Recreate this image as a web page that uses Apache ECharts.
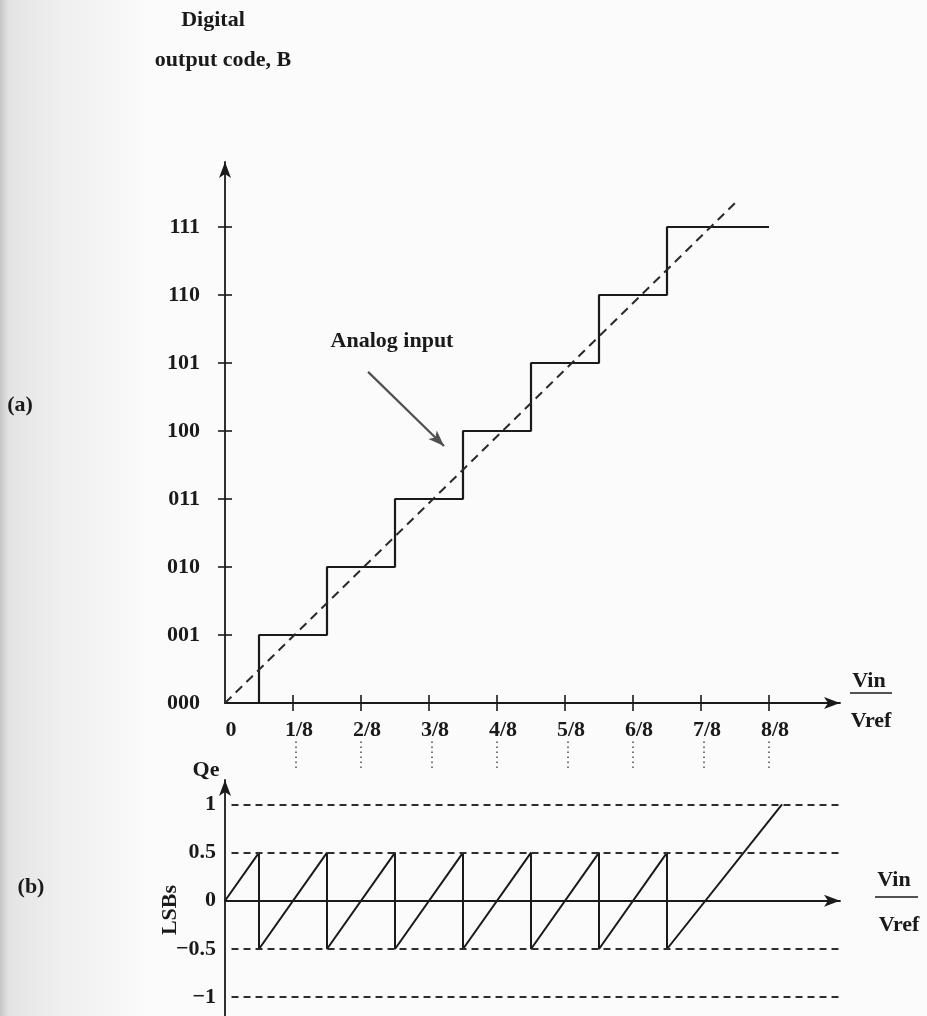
<!DOCTYPE html>
<html><head><meta charset="utf-8">
<script src="https://cdn.jsdelivr.net/npm/echarts@6/dist/echarts.min.js"></script>
<style>html,body{margin:0;padding:0;background:#fbfbfb}#c{width:927px;height:1016px}</style>
</head><body><div id="c"></div>
<script>
// ---- data ----
const codeLabels = ['000','001','010','011','100','101','110','111'];
const codeValues = [0,1,2,3,4,5,6,7];
const xTickLabels = ['0','1/8','2/8','3/8','4/8','5/8','6/8','7/8','8/8'];
const xTickValues = [0,0.125,0.25,0.375,0.5,0.625,0.75,0.875,1];
// staircase: Vin/Vref where each code starts, and the code reached
const stairX = [0,0.0625,0.1875,0.3125,0.4375,0.5625,0.6875,0.8125,1.0];
const stairY = [0,1,2,3,4,5,6,7,7];
// analog input (dashed ideal line)
const analogX = [0,0.941];
const analogY = [0,7.38];
// annotation arrow "Analog input"
const annotX = [0.263,0.4026];
const annotY = [4.87,3.78];
// quantization error Qe (LSBs)
const qeX = [0,0.0625,0.0625,0.1875,0.1875,0.3125,0.3125,0.4375,0.4375,0.5625,0.5625,0.6875,0.6875,0.8125,0.8125,1.024];
const qeY = [0,0.5,-0.5,0.5,-0.5,0.5,-0.5,0.5,-0.5,0.5,-0.5,0.5,-0.5,0.5,-0.5,1];
const qeLabels = ['1','0.5','0','\u22120.5','\u22121'];
const qeLabelValues = [1,0.5,0,-0.5,-1];
const qeDashedLevels = [1,0.5,-0.5,-1];
const qeDashedStart = 0.012;
const qeDashedEnd = 1.128;

// ---- chart ----
const FONT = '"Liberation Serif","Times New Roman",serif';
const INK = '#1a1a1a';
const chart = echarts.init(document.getElementById('c'), null, {renderer:'canvas'});
const XMAX = 615/544;
const txt = (text, x, y, extra) => Object.assign({
  type:'text', x, y,
  style:{text, font:'bold 22px '+FONT, fill:INK, align:'center', verticalAlign:'middle'}
}, extra||{});

const stairData = stairX.map((x,i)=>[x,stairY[i]]);
const analogData = analogX.map((x,i)=>[x,analogY[i]]);
const qeData = qeX.map((x,i)=>[x,qeY[i]]);

const option = {
  backgroundColor:'#fbfbfb',
  animation:false,
  grid:[
    {left:225, top:162, width:615, height:541},
    {left:225, top:780, width:615, height:236},
    {left:225, top:740, width:615, height:28}
  ],
  xAxis:[
    {gridIndex:0, type:'value', min:0, max:XMAX, position:'bottom',
     axisLine:{show:true, lineStyle:{color:INK, width:1.8}, symbol:['none','arrow'], symbolSize:[9,16]},
     axisTick:{show:true, customValues:xTickValues.slice(1), length:8, lineStyle:{color:INK,width:1.6}},
     axisLabel:{show:true, customValues:xTickValues, formatter:(v)=>xTickLabels[xTickValues.indexOf(v)] ?? '',
       fontFamily:FONT, fontWeight:'bold', fontSize:22, color:INK, margin:16, padding:[0,0,0,12]},
     splitLine:{show:false}},
    {gridIndex:0, type:'value', min:0, max:XMAX, position:'bottom',
     axisLine:{show:false},
     axisTick:{show:true, inside:true, customValues:xTickValues.slice(1), length:8, lineStyle:{color:INK,width:1.6}},
     axisLabel:{show:false}, splitLine:{show:false}},
    {gridIndex:1, type:'value', min:0, max:XMAX,
     axisLine:{show:true, onZero:true, lineStyle:{color:INK, width:1.8}, symbol:['none','arrow'], symbolSize:[9,16]},
     axisTick:{show:false}, axisLabel:{show:false}, splitLine:{show:false}},
    {gridIndex:2, type:'value', min:0, max:XMAX, show:false}
  ],
  yAxis:[
    {gridIndex:0, type:'value', min:0, max:541/68, position:'left',
     axisLine:{show:true, lineStyle:{color:INK, width:1.8}, symbol:['none','arrow'], symbolSize:[9,16]},
     axisTick:{show:true, customValues:codeValues.slice(1), length:7, lineStyle:{color:INK,width:1.6}},
     axisLabel:{show:true, customValues:codeValues, formatter:(v)=>codeLabels[codeValues.indexOf(v)] ?? '',
       fontFamily:FONT, fontWeight:'bold', fontSize:22, color:INK, margin:25},
     splitLine:{show:false}},
    {gridIndex:0, type:'value', min:0, max:541/68, position:'left',
     axisLine:{show:false},
     axisTick:{show:true, inside:true, customValues:codeValues.slice(1), length:7, lineStyle:{color:INK,width:1.6}},
     axisLabel:{show:false}, splitLine:{show:false}},
    {gridIndex:1, type:'value', min:-1.195, max:1.253, position:'left',
     axisLine:{show:true, onZero:false, lineStyle:{color:INK, width:1.8}, symbol:['none','arrow'], symbolSize:[9,16]},
     axisTick:{show:false},
     axisLabel:{show:true, customValues:qeLabelValues, formatter:(v)=>qeLabels[qeLabelValues.indexOf(v)] ?? '',
       fontFamily:FONT, fontWeight:'bold', fontSize:22, color:INK, margin:9},
     splitLine:{show:false}},
    {gridIndex:2, type:'value', min:0, max:1, show:false}
  ],
  series:[
    {type:'line', xAxisIndex:0, yAxisIndex:0, data:stairData, step:'end', showSymbol:false,
     lineStyle:{color:INK, width:2.2}},
    {type:'line', xAxisIndex:0, yAxisIndex:0, data:analogData, showSymbol:false,
     lineStyle:{color:'#2a2a2a', width:2, type:[9,6]},
     markLine:{silent:true, symbol:['none','arrow'], symbolSize:[9,16],
       label:{show:false},
       lineStyle:{color:'#505050', width:2.2, type:'solid'},
       data:[[{coord:[annotX[0],annotY[0]]},{coord:[annotX[1],annotY[1]]}]]}},
    {type:'line', xAxisIndex:2, yAxisIndex:2, data:qeData, showSymbol:false,
     lineStyle:{color:INK, width:2},
     markLine:{silent:true, symbol:['none','none'], label:{show:false},
       lineStyle:{color:'#2e2e2e', width:1.8, type:[7,5]},
       data:qeDashedLevels.map(v=>[{coord:[qeDashedStart,v]},{coord:[qeDashedEnd,v]}])}},
    {type:'line', xAxisIndex:3, yAxisIndex:3, data:[], showSymbol:false,
     markLine:{silent:true, symbol:['none','none'], label:{show:false},
       lineStyle:{color:'#555', width:1.6, type:[1.5,3.5]},
       data:xTickValues.slice(1).map(v=>({xAxis:v}))}}
  ],
  graphic:[
    {type:'rect', z:-10, silent:true, shape:{x:0,y:0,width:150,height:1016},
     style:{fill:new echarts.graphic.LinearGradient(0,0,1,0,[
       {offset:0,color:'#c6c6c6'},{offset:0.06,color:'#e4e4e4'},{offset:0.4,color:'#efefef'},{offset:1,color:'#fbfbfb'}])}},
    txt('Digital',213,20),
    txt('output code, B',223,60),
    txt('Analog input',392,341),
    txt('(a)',20,405),
    txt('(b)',31,887),
    txt('Qe',206,770),
    txt('LSBs',170,910,{rotation:Math.PI/2}),
    txt('Vin',869,681),
    {type:'line', shape:{x1:850,y1:693,x2:892,y2:693}, style:{stroke:INK, lineWidth:1.6}},
    txt('Vref',871,721),
    txt('Vin',894,880),
    {type:'line', shape:{x1:875,y1:897,x2:918,y2:897}, style:{stroke:INK, lineWidth:1.6}},
    txt('Vref',899,925)
  ]
};
chart.setOption(option);
</script>
</body></html>
